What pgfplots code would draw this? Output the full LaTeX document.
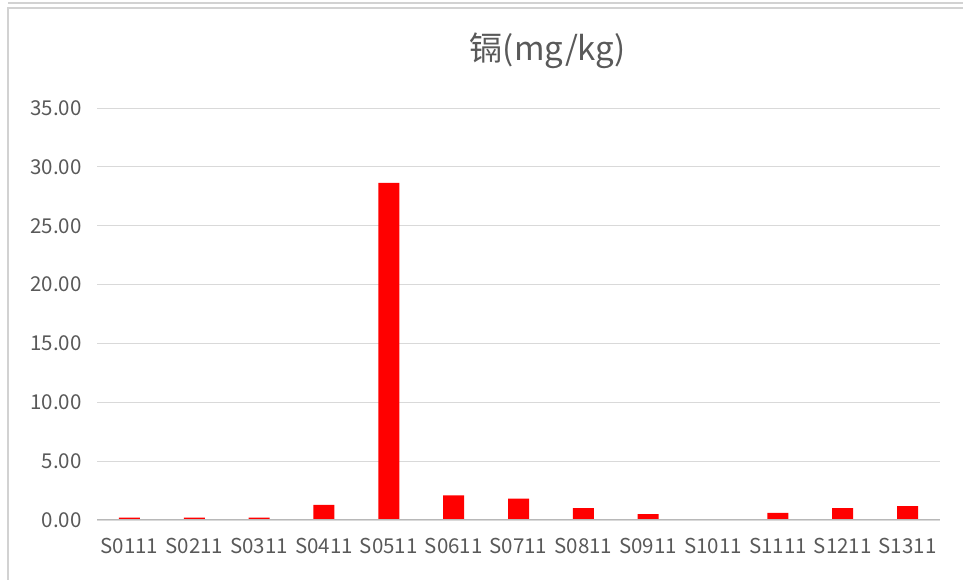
\documentclass[border=0pt]{standalone}
\usepackage{pgfplots}
\pgfplotsset{compat=1.18}
\usepackage{fontspec}
\setmainfont{Noto Sans CJK SC}
\definecolor{txt}{RGB}{89,89,89}
\definecolor{gridc}{RGB}{217,217,217}
\definecolor{framec}{RGB}{210,210,210}

\begin{document}
\begin{tikzpicture}
% page = 963 x 580 (1pt ~ 1px of the reference)
\path[use as bounding box] (0pt,0pt) rectangle (963pt,580pt);
\draw[framec, line width=1.2pt] (8pt,577pt) -- (963pt,577pt);
\draw[framec, line width=1.2pt] (8pt,0pt) -- (8pt,572pt) -- (963pt,572pt);
\begin{axis}[
    at={(97pt,60pt)}, anchor=south west,
    scale only axis,
    width=843pt, height=412pt,
    xmin=-0.5, xmax=12.5,
    ymin=0, ymax=35,
    ytick={0,5,...,35},
    xtick={0,...,12},
    xticklabels={S0111,S0211,S0311,S0411,S0511,S0611,S0711,S0811,S0911,S1011,S1111,S1211,S1311},
    axis line style={draw=none},
    axis x line*=bottom,
    axis y line*=left,
    tick style={draw=none},
    ymajorgrids,
    grid style={draw=gridc, line width=0.9pt},
    /pgf/number format/fixed,
    /pgf/number format/fixed zerofill,
    /pgf/number format/precision=2,
    /pgf/number format/assume math mode=true,
    ticklabel style={font=\fontsize{20.5}{22}\selectfont, text=txt},
    xticklabel style={yshift=-15pt},
    yticklabel style={xshift=-12pt},
    title={镉(mg/kg)},
    title style={font=\fontsize{33}{36}\selectfont, text=txt, at={(0.535,1)}, yshift=30pt, anchor=south},
]
\addplot[ybar, bar width=21pt, fill=red, draw=none] coordinates {
    (0,0.20) (1,0.20) (2,0.20) (3,1.28) (4,28.64) (5,2.10) (6,1.82)
    (7,1.00) (8,0.49) (9,0.00) (10,0.60) (11,1.00) (12,1.17)
};
\draw[gridc!85!black, line width=1pt] (axis cs:-0.5,0) -- (axis cs:12.5,0);
\end{axis}
\end{tikzpicture}
\end{document}
